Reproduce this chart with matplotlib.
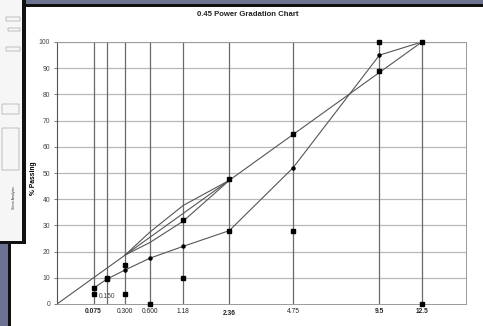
import matplotlib

matplotlib.use("Agg")
import matplotlib.pyplot as plt
from matplotlib.patches import Rectangle

plt.rcParams["font.family"] = ["Liberation Sans", "DejaVu Sans"]

W, H = 483, 326
POWER = 0.45

# sieve sizes (mm) and their labels
sieves = [0.075, 0.15, 0.3, 0.6, 1.18, 2.36, 4.75, 9.5, 12.5]
sieve_labels = ["0.075", "0.150", "0.300", "0.600", "1.18", "2.36", "4.75", "9.5", "12.5"]
bold_labels = ["0.075", "2.36", "9.5", "12.5"]

# maximum density line
mdl_sizes = [0.0, 12.5]
mdl_pass = [0, 100]

# restricted zone
rz_sizes = [0.3, 0.6, 1.18, 2.36]
rz_upper = [18.7, 27.5, 37.6, 47.2]
rz_lower = [18.7, 23.5, 31.6, 47.2]

# blend curve (small dots)
blend_sizes = [0.075, 0.15, 0.3, 0.6, 1.18, 2.36, 4.75, 9.5, 12.5]
blend_pass = [6, 9.5, 13, 17.5, 22, 28, 52, 95, 100]

# spec points (square markers)
spec_hi_sizes = [0.075, 0.15, 0.3, 1.18, 2.36, 4.75, 9.5, 12.5]
spec_hi_pass = [6, 10, 15, 32, 47.7, 65, 100, 100]
spec_lo_sizes = [0.075, 0.15, 0.3, 0.6, 1.18, 2.36, 4.75, 9.5, 12.5]
spec_lo_pass = [4, 9.5, 4, 0, 10, 28, 28, 89, 0]


def tx(vals):
    return [v ** POWER for v in vals]


def px_rect(fig, x, y, w, h, color, z=0):
    fig.add_artist(Rectangle((x / W, 1 - (y + h) / H), w / W, h / H,
                             transform=fig.transFigure, facecolor=color,
                             edgecolor="none", zorder=z))


fig = plt.figure(figsize=(W / 100, H / 100), dpi=100)
fig.patch.set_facecolor("white")

# screenshot frame around the chart
px_rect(fig, 0, 0, W, 4, "#6d7391")
px_rect(fig, 24, 4, W - 24, 3, "#111111")
px_rect(fig, 0, 0, 22, 241, "#f6f6f6")
px_rect(fig, 22, 0, 4, 244, "#111111")
px_rect(fig, 0, 241, 26, 3, "#111111")
px_rect(fig, 0, 244, 8, H - 244, "#6c7294")
px_rect(fig, 8, 244, 3, H - 244, "#111111")

# bits of the document page on the left
for (bx, by, bw, bh) in [(6, 17, 14, 4), (8, 28, 12, 3), (6, 47, 14, 4),
                         (2, 104, 17, 10), (2, 128, 17, 42)]:
    fig.add_artist(Rectangle((bx / W, 1 - (by + bh) / H), bw / W, bh / H,
                             transform=fig.transFigure, facecolor="none",
                             edgecolor="#888888", linewidth=0.35))
fig.text(14 / W, 1 - 198 / H, "Sieve Analysis", rotation=90, fontsize=2.5,
         ha="center", va="center", color="#333333")

ax = fig.add_axes([57 / W, (H - 304) / H, (466 - 57) / W, (304 - 42) / H])
ax.set_xlim(0, 3.493)
ax.set_ylim(0, 100)

for y in range(10, 101, 10):
    ax.axhline(y, color="#b8b8b8", linewidth=0.9, zorder=1)
for s in sieves:
    ax.axvline(s ** POWER, color="#6a6a6a", linewidth=0.9, zorder=1)

line_kw = dict(color="#555555", linewidth=0.8, zorder=2)
ax.plot(tx(mdl_sizes), mdl_pass, **line_kw)
ax.plot(tx(rz_sizes), rz_upper, **line_kw)
ax.plot(tx(rz_sizes), rz_lower, **line_kw)
ax.plot(tx(blend_sizes), blend_pass, marker="o", markersize=2.2,
        markerfacecolor="black", markeredgecolor="black", **line_kw)

ax.plot(tx(spec_hi_sizes), spec_hi_pass, linestyle="none", marker="s",
        markersize=3.2, color="black", zorder=3, clip_on=False)
ax.plot(tx(spec_lo_sizes), spec_lo_pass, linestyle="none", marker="s",
        markersize=3.2, color="black", zorder=3, clip_on=False)

ax.set_yticks(range(0, 101, 10))
ax.tick_params(axis="y", labelsize=4.9, length=2, width=0.5, pad=3,
               colors="#444444")
ax.set_xticks([])

for s, lab in zip(sieves, sieve_labels):
    weight = "bold" if lab in bold_labels else "normal"
    if lab == "0.150":
        ax.text(s ** POWER, 2.8, lab, fontsize=4.8, ha="center",
                va="center", color="#444444")
        continue
    dy = -3.8 if lab == "2.36" else -3.0
    ax.text(s ** POWER, dy, lab, fontsize=4.8, ha="center", va="center",
            fontweight=weight, color="#222222", clip_on=False)

for side in ["top", "right", "bottom"]:
    ax.spines[side].set_color("#999999")
    ax.spines[side].set_linewidth(0.7)
ax.spines["left"].set_color("#555555")
ax.spines["left"].set_linewidth(0.8)

ax.set_ylabel("% Passing", fontsize=4.8, fontweight="bold")
ax.yaxis.set_label_coords(-0.048, 0.48)
fig.text(248 / W, 1 - 15 / H, "0.45 Power Gradation Chart", fontsize=5.6,
         fontweight="bold", ha="center", va="center", color="#222222")

fig.savefig("out.png", dpi=100)
